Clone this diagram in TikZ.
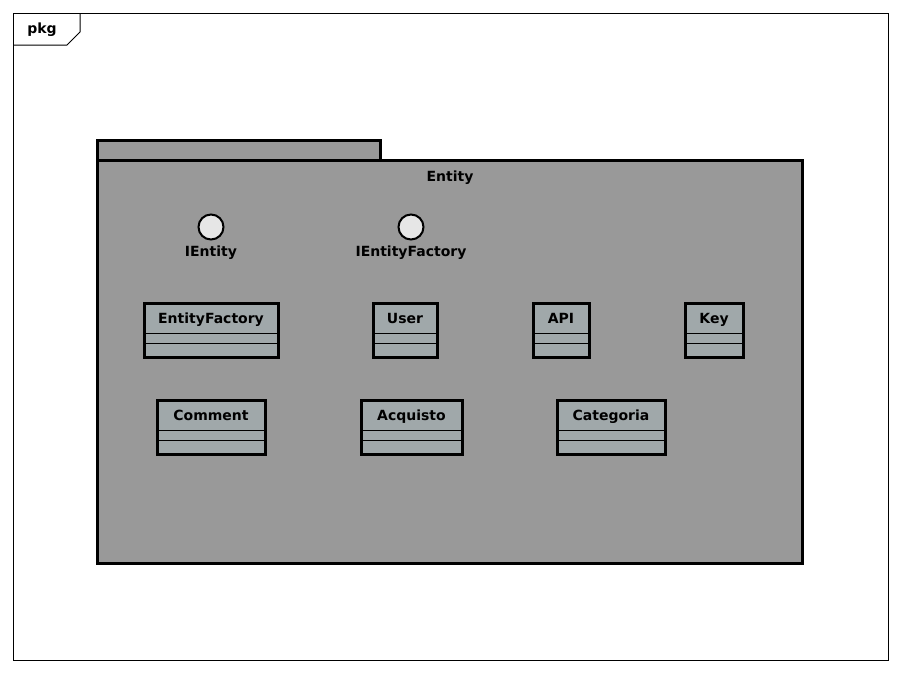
\documentclass[tikz,border=0pt]{standalone}
\usepackage{fontspec}
\setmainfont{DejaVu Sans}
\definecolor{pkggray}{HTML}{999999}
\definecolor{classgray}{HTML}{A0A8AA}
\definecolor{ifacegray}{HTML}{E6E6E6}
\tikzset{
	umltext/.style={font=\fontsize{14}{16}\selectfont\bfseries, inner sep=0pt, text height=10pt, text depth=3pt},
	pkgbox/.style={draw=black, fill=pkggray, line width=3pt},
	classbox/.style={draw=black, fill=classgray, line width=3pt},
	classname/.style={umltext, anchor=north, minimum height=30pt, text height=12pt, text depth=2pt},
	iface/.style={circle, draw=black, fill=ifacegray, line width=2pt, minimum size=25pt, inner sep=0pt}
}
\begin{document}
\begin{tikzpicture}[x=1pt,y=-1pt]
		\useasboundingbox (0,0) rectangle (901,673);
		% frame
		\draw[line width=1pt] (13,13) rectangle (888,660);
		\draw[line width=1pt] (13,45) -- (67,45) -- (80,32) -- (80,13);
		\node[umltext] (pkg) at (42,30) {pkg};

		% package Entity
		\draw[pkgbox] (97,140) rectangle (380,160);
		\draw[pkgbox] (97,160) rectangle (802,563);
		\node[umltext] (entity) at (450,178) {Entity};

		% interfaces
		\node[iface] (ientity) at (211,227) {};
		\node[iface] (ientityfactory) at (411,227) {};
		\node[umltext] (ientitylabel) at (211,253) {IEntity};
		\node[umltext] (ientityfactorylabel) at (411,253) {IEntityFactory};

		% classes
		\foreach \cname/\cx/\cy/\cw in {EntityFactory/211/303/134, User/405/303/64,
		        API/561/303/56, Key/714/303/58, Comment/211/400/108,
		        Acquisto/411.5/400/101, Categoria/611/400/108}{
			\filldraw[classbox] ({\cx-\cw/2},\cy) rectangle ++(\cw,54);
			\node[classname, minimum width=\cw] (\cname) at (\cx,\cy) {\cname};
			\draw[line width=1.5pt] (\cname.south west) -- (\cname.south east);
			\draw[line width=1.5pt] (\cname.south west) ++(0,10) -- ++(\cw,0);
		}
\end{tikzpicture}
\end{document}
